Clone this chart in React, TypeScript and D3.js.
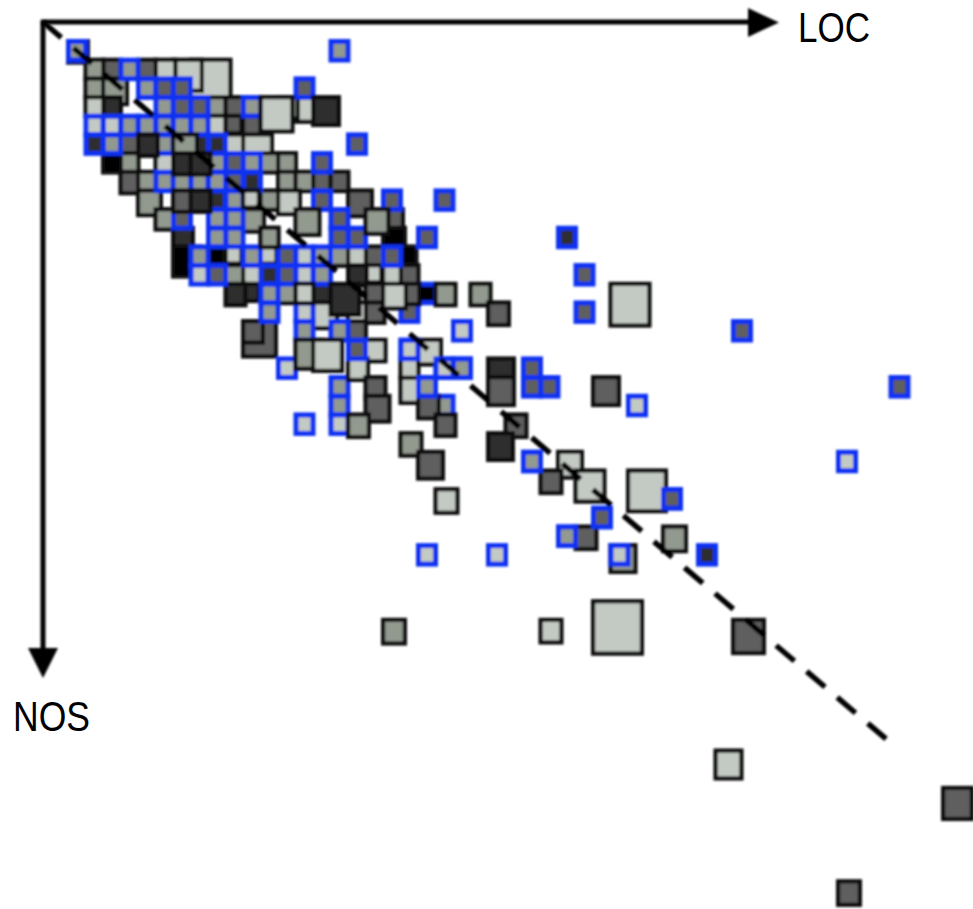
import React, { useEffect, useRef } from 'react';
import * as d3 from 'd3';

// tone codes: 0 light, 1 mid, 2 dark, 3 darkest, 4 black
// each row: [LOC, NOS, size, tone]
type Row = number[];

const toneColors = ['#c3c9c3', '#929a90', '#5f5f5f', '#2f2f2f', '#000000'];

// grey classes lying under the blue ones
const lowerClasses: Row[] = [
  [2, 2, 24, 1], [4, 3, 22, 2], [3, 3, 22, 1], [9, 3, 44, 0], [8, 3, 33, 0], [7, 3, 24, 0], [6, 3, 22, 2],
  [3, 4, 22, 1], [4, 4, 28, 1], [4, 5, 22, 3], [3, 5, 22, 0], [4, 7, 34, 4], [5, 7, 22, 2],
  [9, 7, 24, 3], [7, 8, 22, 0], [5, 8, 22, 1], [4, 8, 22, 4],
  [10, 5, 22, 1], [11, 5, 24, 2], [10, 6, 22, 0], [11, 6, 20, 2], [12, 6, 22, 2], [11, 7, 22, 0], [12, 7, 33, 0],
  [15, 5, 27, 0], [14, 5, 24, 1], [13, 8, 22, 1], [14, 8, 22, 1], [9, 9, 22, 3], [8, 9, 22, 1],
  [5, 9, 24, 2], [6, 9, 22, 1], [6, 10, 27, 1], [7, 11, 23, 1],
  [8, 12, 24, 3], [8, 13, 32, 4], [10, 13, 20, 4], [11, 13, 20, 0], [11, 14, 22, 1], [12, 14, 22, 0],
  [13, 13, 20, 0], [14, 9, 22, 1], [15, 9, 22, 1], [16, 9, 22, 2], [17, 9, 22, 2], [13, 10, 22, 1],
  [12, 10, 21, 0], [14, 10, 26, 0], [12, 11, 25, 1], [13, 12, 22, 1], [18, 10, 28, 2], [20, 11, 24, 2],
  [20, 12, 26, 4], [21, 13, 20, 4], [19, 13, 22, 2], [17, 13, 22, 1], [18, 13, 22, 0],
  [21, 14, 22, 2], [20, 14, 22, 0], [19, 14, 20, 0], [18, 14, 23, 3], [19, 15, 22, 2],
  [19, 16, 23, 2], [14, 15, 22, 1], [12, 15, 20, 3], [16, 15, 24, 3], [16, 16, 28, 0], [18, 16, 22, 0],
  [18, 17, 22, 2], [12, 17, 37, 2], [12, 17, 24, 2], [11, 15, 24, 3],
];

// blue classes, all the same size
const blueClasses: Row[] = [
  [2, 2, 1], [17, 2, 1], [15, 4, 2], [5, 3, 1], [6, 4, 1], [7, 4, 2], [8, 4, 2], [12, 5, 1], [7, 5, 1], [8, 5, 2], [9, 5, 2],
  [3, 6, 0], [4, 6, 0], [5, 6, 1], [6, 6, 1], [7, 6, 1], [8, 6, 1], [9, 6, 1], [3, 7, 3], [4, 7, 1], [7, 7, 1], [10, 7, 3],
  [18, 7, 2], [10, 8, 1], [11, 8, 2], [12, 8, 1], [16, 8, 2], [7, 9, 1], [9, 9, 1], [10, 9, 1], [11, 9, 2], [12, 9, 3],
  [10, 10, 3], [11, 10, 1], [16, 10, 2], [20, 10, 2], [23, 10, 2], [8, 11, 2], [10, 11, 1], [11, 11, 1], [17, 11, 2],
  [10, 12, 1], [11, 12, 1], [17, 12, 2], [18, 12, 2], [22, 12, 2], [30, 12, 3], [9, 13, 1], [12, 13, 1], [14, 13, 2],
  [15, 13, 0], [16, 13, 1], [20, 13, 2], [9, 14, 0], [10, 14, 2], [13, 14, 3], [14, 14, 2], [15, 14, 0], [16, 14, 1],
  [31, 14, 2], [13, 15, 1], [22, 15, 4], [13, 16, 1], [15, 16, 0], [21, 16, 2], [31, 16, 2], [15, 17, 1], [17, 17, 1], [24, 17, 0],
  [40, 17, 2], [18, 18, 2], [21, 18, 0], [14, 19, 0], [23, 19, 0], [24, 19, 1], [28, 19, 2], [17, 20, 1], [22, 20, 1],
  [28, 20, 2], [29, 20, 2], [49, 20, 2], [17, 21, 1], [23, 21, 1], [34, 21, 0], [15, 22, 0], [17, 22, 0], [28, 24, 1],
  [46, 24, 0], [36, 26, 2], [32, 27, 2], [30, 28, 1], [22, 29, 0], [26, 29, 0], [33, 29, 0], [38, 29, 3],
];

// grey classes lying over the blue ones
const upperClasses: Row[] = [
  [8, 7, 28, 1], [6, 7, 24, 3], [8, 8, 24, 3], [9, 8, 24, 3], [8, 10, 24, 2], [9, 10, 24, 3],
  [13, 5, 36, 0], [16, 5, 30, 3], [15, 11, 28, 1], [19, 11, 27, 1], [13, 12, 22, 1], [12, 10, 20, 0],
  [23, 15, 24, 1], [21, 15, 23, 2], [20, 15, 27, 0], [17, 15, 33, 3], [21, 20, 28, 0], [21, 19, 22, 0],
  [15, 15, 22, 0], [15, 18, 31, 1], [16, 18, 33, 0], [19, 18, 24, 0], [18, 19, 24, 0], [22, 18, 27, 0],
  [19, 20, 24, 2], [19, 21, 28, 2], [18, 22, 25, 1], [22, 21, 25, 2], [23, 22, 24, 2], [21, 23, 25, 1],
  [22, 24, 29, 2], [23, 26, 26, 0], [26, 19, 30, 3], [26, 20, 30, 2], [27, 22, 25, 2], [26, 23, 29, 3],
  [32, 20, 30, 2], [25, 15, 24, 1], [26, 16, 25, 2], [33, 15, 43, 0], [30, 24, 28, 0], [31, 25, 33, 0],
  [29, 25, 25, 2], [34, 25, 42, 0], [31, 28, 25, 2], [33, 29, 29, 1], [36, 28, 27, 1],
  [20, 33, 26, 1], [29, 33, 25, 0], [32, 32, 53, 0], [40, 33, 35, 2], [39, 40, 30, 0], [52, 42, 33, 2], [46, 47, 26, 2],
];

// the blue squares that sit back on top of their grey neighbours
const topBlue: Row[] = [
  [2, 2, 1], [36, 26, 2], [32, 27, 2], [28, 24, 1], [30, 28, 1], [33, 29, 0], [21, 18, 0], [23, 19, 0], [24, 19, 1], [22, 20, 1], [18, 18, 2],
];

const blueEdge = '#1030f2';
const axisNames = ['LOC', 'NOS'];
const locDomain = [0, 53];
const nosDomain = [0, 48];

export default function App() {
  const ref = useRef<SVGSVGElement>(null);

  useEffect(() => {
    const svg = d3.select(ref.current);
    svg.selectAll('*').remove();

    const x = d3.scaleLinear().domain(locDomain).range([42, 42 + 53 * 17.5]);
    const y = d3.scaleLinear().domain(nosDomain).range([12.7, 12.7 + 48 * 18.67]);

    const defs = svg.append('defs');
    defs.append('filter').attr('id', 'soft')
      .append('feGaussianBlur').attr('stdDeviation', 0.8);

    const g = svg.append('g').attr('filter', 'url(#soft)');

    const draw = (rows: Row[], edge: string, sw: number, blue: boolean) => {
      g.append('g').selectAll('rect')
        .data(rows)
        .enter()
        .append('rect')
        .attr('x', d => x(d[0]) - 11 + sw / 2)
        .attr('y', d => y(d[1]) - 11 + sw / 2)
        .attr('width', d => (blue ? 22 : d[2]) - sw)
        .attr('height', d => (blue ? 22 : d[2]) * 1.067 - sw)
        .attr('fill', d => toneColors[blue ? d[2] : d[3]])
        .attr('stroke', edge)
        .attr('stroke-width', sw);
    };

    draw(lowerClasses, '#0a0a0a', 4.2, false);
    draw(blueClasses, blueEdge, 5, true);
    draw(upperClasses, '#0a0a0a', 4.2, false);
    draw(topBlue, blueEdge, 5, true);

    // diagonal
    g.append('line')
      .attr('x1', 43).attr('y1', 22).attr('x2', 892).attr('y2', 744)
      .attr('stroke', '#000').attr('stroke-width', 5.5)
      .attr('stroke-dasharray', '24 16.1');

    // axes
    const axes = svg.append('g').attr('filter', 'url(#soft)');
    axes.append('path').attr('d', 'M41,22H752').attr('stroke', '#000').attr('stroke-width', 5).attr('fill', 'none');
    axes.append('path').attr('d', 'M43,20V652').attr('stroke', '#000').attr('stroke-width', 5).attr('fill', 'none');
    axes.append('path').attr('d', 'M748,8L779,22.5L748,37Z').attr('fill', '#000');
    axes.append('path').attr('d', 'M28,648H58L43,678Z').attr('fill', '#000');

    svg.append('text').attr('x', 798).attr('y', 42)
      .attr('font-family', 'Liberation Sans').attr('font-size', 42)
      .attr('textLength', 72).attr('lengthAdjust', 'spacingAndGlyphs')
      .text(axisNames[0]);
    svg.append('text').attr('x', 13).attr('y', 731)
      .attr('font-family', 'Liberation Sans').attr('font-size', 42)
      .attr('textLength', 77).attr('lengthAdjust', 'spacingAndGlyphs')
      .text(axisNames[1]);
  }, []);

  return (
    <svg ref={ref} width={973} height={909}
      style={{ position: 'absolute', left: 0, top: 0, background: '#fff' }} />
  );
}
